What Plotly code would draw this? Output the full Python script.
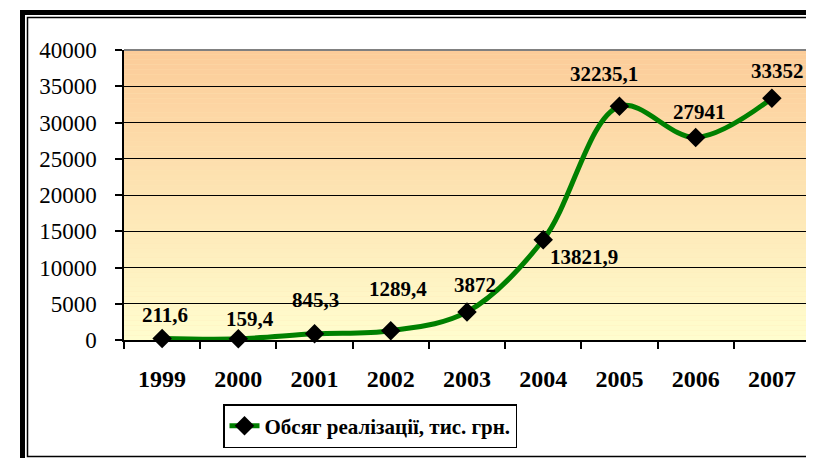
import plotly.graph_objects as go

# ── Дані ─────────────────────────────────────────────────────────────────────
years = ["1999", "2000", "2001", "2002", "2003", "2004", "2005", "2006", "2007"]
sales = [211.6, 159.4, 845.3, 1289.4, 3872, 13821.9, 32235.1, 27941, 33352]
sales_labels = ["211,6", "159,4", "845,3", "1289,4", "3872", "13821,9",
                "32235,1", "27941", "33352"]
series_name = "Обсяг реалізації, тис. грн."

# зсув підписів відносно маркерів (px): (dx, dy вгору)
LABEL_SHIFT = [(3, 23), (12, 20), (1, 34), (7, 42), (8, 27),
               (41, -17), (-15, 32), (4, 25), (6, 27)]

FONT = "Liberation Serif, Times New Roman, serif"
OFF = 8                       # відступ body у браузері
W, H = 814 - OFF, 458 - OFF
L, R, T, B = 124 - OFF, 4, 50 - OFF, 118   # plot area in px
TOP_COLOR = (252, 204, 153)
BOT_COLOR = (255, 253, 206)


def px_x(p):
    # екранні px -> paper
    return (p - OFF - L) / (W - L - R)


def px_y(p):
    return (H - B - (p - OFF)) / (H - T - B)


fig = go.Figure()
fig.add_trace(go.Scatter(
    x=years, y=sales, name=series_name,
    mode="lines+markers",
    line=dict(color="#008000", width=5, shape="spline", smoothing=1),
    marker=dict(symbol="diamond", size=15, color="black"),
    cliponaxis=False,
))

# підписи значень (x — індекс категорії)
for i, (val, lab, (dx, dy)) in enumerate(zip(sales, sales_labels, LABEL_SHIFT)):
    fig.add_annotation(
        x=i, y=val, text=f"<b>{lab}</b>", showarrow=False,
        xshift=dx, yshift=dy,
        font=dict(family=FONT, size=21, color="black"),
    )

# градієнтний фон області побудови
shapes = []
n = 60
for i in range(n):
    t = i / (n - 1)
    c = tuple(round(TOP_COLOR[k] + (BOT_COLOR[k] - TOP_COLOR[k]) * t) for k in range(3))
    shapes.append(dict(
        type="rect", xref="x domain", yref="y domain",
        x0=0, x1=1, y0=1 - (i + 1) / n, y1=1 - i / n,
        fillcolor="rgb(%d,%d,%d)" % c, line=dict(width=0), layer="below",
    ))

# сіра рамка зверху/праворуч
shapes.append(dict(type="line", xref="x domain", yref="y domain",
                   x0=0, x1=1, y0=1, y1=1, line=dict(color="#808080", width=2)))
shapes.append(dict(type="line", xref="x domain", yref="y domain",
                   x0=1, x1=1, y0=0, y1=1, line=dict(color="#808080", width=2)))

# подвійна рамка навколо діаграми
shapes.append(dict(type="rect", xref="paper", yref="paper",
                   x0=px_x(22.5), x1=px_x(830), y0=px_y(470), y1=px_y(12.5),
                   line=dict(color="black", width=5), fillcolor="rgba(0,0,0,0)"))
shapes.append(dict(type="rect", xref="paper", yref="paper",
                   x0=px_x(27.5), x1=px_x(830), y0=px_y(456.5), y1=px_y(17.5),
                   line=dict(color="black", width=1.5), fillcolor="rgba(0,0,0,0)"))

fig.update_layout(
    width=W, height=H,
    margin=dict(l=L, r=R, t=T, b=B),
    paper_bgcolor="white", plot_bgcolor="rgb(254,230,180)",
    font=dict(family=FONT, size=22, color="black"),
    shapes=shapes,
    showlegend=True,
    legend=dict(
        x=px_x(223), y=px_y(404), xanchor="left", yanchor="top",
        orientation="h", bordercolor="black", borderwidth=1.5,
        bgcolor="white",
        font=dict(family=FONT, size=21, color="black", weight="bold"),
    ),
)
fig.update_xaxes(
    type="category", range=[-0.5, len(years) - 0.5], tickson="boundaries",
    ticks="outside", ticklen=7, tickwidth=1.5, tickcolor="black",
    showline=True, linecolor="black", linewidth=1.5,
    showgrid=False, ticklabelstandoff=16,
    tickfont=dict(family=FONT, size=24, weight="bold"),
)
fig.update_yaxes(
    range=[0, 40000], dtick=5000, tickformat="d",
    ticks="outside", ticklen=7, tickwidth=1.5, tickcolor="black",
    showline=True, linecolor="black", linewidth=1.5,
    gridcolor="black", gridwidth=1.2, zeroline=False,
    ticklabelstandoff=14,
    tickfont=dict(family=FONT, size=23),
)

fig.write_html("out.html")
